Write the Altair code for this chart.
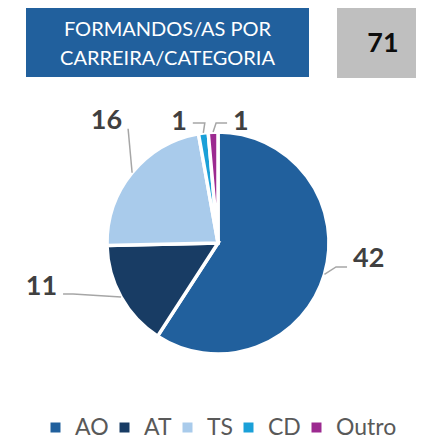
import math
import altair as alt
import pandas as pd

# ---------------- data ----------------
categories = ["AO", "AT", "TS", "CD", "Outro"]
values = [42, 11, 16, 1, 1]
colors = ["#21609D", "#183C64", "#A9CBEB", "#1AA0D8", "#9C2A90"]
title_lines = ["FORMANDOS/AS POR", "CARREIRA/CATEGORIA"]
total_label = "71"

# ---------------- layout ----------------
W, H = 408, 432
CX, CY = 210, 235          # pie centre (chart px)
R = 111                    # pie radius
FONT = "Lato"
# leader layout per slice: end offset (dx, dy) from slice edge, horizontal segment, label dy
LEADER = {
    "AO": (22.6, -7.5, 11, 0),
    "AT": (-58.0, -3.0, 10, 1),
    "TS": (-4.0, -44.0, 0, 0),
    "CD": (-10.5, -10.0, 12, 7),
    "Outro": (14.0, -9.0, 11, 7),
}

total = sum(values)
pie_df = pd.DataFrame({"cat": categories, "value": values, "idx": range(len(values))})

line_rows, label_rows = [], []
cum = 0
for c, v in zip(categories, values):
    mid = (cum + v / 2) / total * 2 * math.pi
    cum += v
    sx, sy = R * math.sin(mid), -R * math.cos(mid)
    dx, dy, seg, ldy = LEADER[c]
    ex, ey = sx + dx, sy + dy
    side = 1 if dx > 0 else -1
    bx, by = ex - side * seg, ey
    for k, (px, py) in enumerate([(sx, sy), (bx, by), (ex, ey)]):
        line_rows.append({"cat": c, "k": k, "x": px, "y": py})
    label_rows.append({"cat": c, "text": str(v), "x": ex + side * 6, "y": ey + ldy,
                       "side": "left" if side > 0 else "right"})

lines_df = pd.DataFrame(line_rows)
labels_df = pd.DataFrame(label_rows)

xs = alt.Scale(domain=[-CX, W - CX], range=[0, W], nice=False, zero=False)
ys = alt.Scale(domain=[-CY, H - CY], range=[0, H], nice=False, zero=False)

pie = alt.Chart(pie_df).mark_arc(outerRadius=R, stroke="white", strokeWidth=3.5).encode(
    theta=alt.Theta("value:Q", stack=True),
    order=alt.Order("idx:Q"),
    color=alt.Color(
        "cat:N",
        scale=alt.Scale(domain=categories, range=colors),
        sort=categories,
        legend=alt.Legend(
            title=None, orient="none", legendX=36, legendY=408, direction="horizontal",
            gridAlign="none", symbolType="square", symbolSize=100,
            symbolStrokeWidth=0, labelFont=FONT, labelFontSize=23, labelColor="#595959",
            labelOffset=8, columnPadding=4, padding=0,
        ),
    ),
    x=alt.value(CX),
    y=alt.value(CY),
)

leaders = alt.Chart(lines_df).mark_line(color="#A6A6A6", strokeWidth=1.5).encode(
    x=alt.X("x:Q", scale=xs, axis=None),
    y=alt.Y("y:Q", scale=ys, axis=None),
    detail="cat:N",
    order="k:Q",
)

def label_layer(side):
    return alt.Chart(labels_df).transform_filter(alt.datum.side == side).mark_text(
        align=side, baseline="alphabetic", font=FONT, fontSize=27, fontWeight="bold",
        color="#404040",
    ).encode(
        x=alt.X("x:Q", scale=xs, axis=None),
        y=alt.Y("y:Q", scale=ys, axis=None),
        text="text:N",
    )

blue_box = alt.Chart(pie_df).mark_rect(color="#21609D").encode(
    x=alt.value(18), x2=alt.value(301), y=alt.value(0), y2=alt.value(69)
)
gray_box = alt.Chart(pie_df).mark_rect(color="#BFBFBF").encode(
    x=alt.value(329), x2=alt.value(408), y=alt.value(0), y2=alt.value(70)
)
title_df = pd.DataFrame({"t": title_lines, "row": [0, 1]})
title_text = alt.Chart(title_df).mark_text(
    font=FONT, fontSize=20, color="white", align="center", baseline="alphabetic"
).encode(
    x=alt.value(159.5),
    y=alt.Y("row:Q", scale=alt.Scale(domain=[0, 1], range=[28, 57], nice=False, zero=False), axis=None),
    text="t:N",
)
total_df = pd.DataFrame({"t": [total_label]})
total_text = alt.Chart(total_df).mark_text(
    font=FONT, fontSize=27, fontWeight="bold", color="#0D0D0D", align="center",
    baseline="alphabetic",
).encode(x=alt.value(375), y=alt.value(44), text="t:N")

chart = alt.layer(
    blue_box, gray_box, title_text, total_text, pie, leaders,
    label_layer("left"), label_layer("right"),
).resolve_scale(y="independent").properties(
    width=W, height=H, padding=0, autosize=alt.AutoSizeParams(type="none"),
).configure_view(stroke=None)

chart.save("out.html", embed_options={"renderer": "svg", "actions": False})
